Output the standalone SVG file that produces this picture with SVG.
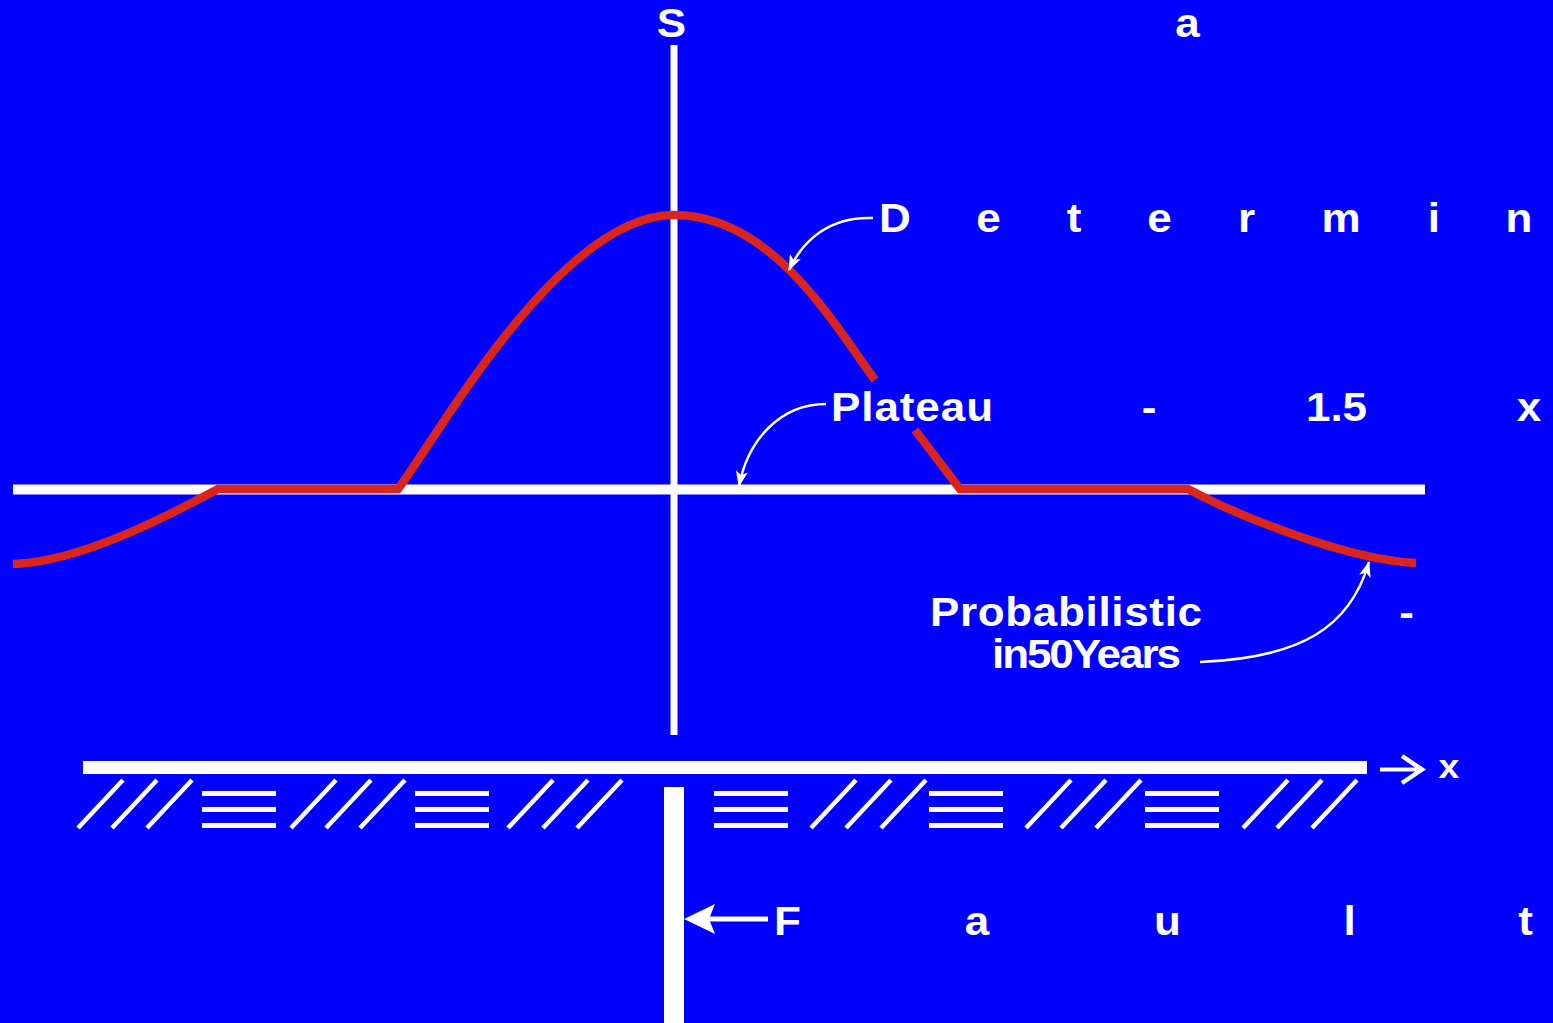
<svg xmlns="http://www.w3.org/2000/svg" width="1553" height="1023" viewBox="0 0 1553 1023">
<defs>
<style>
.t{font-family:"Liberation Sans",Arial,sans-serif;font-weight:bold;font-size:40px;fill:#fff}
.c{text-anchor:middle}
.red{fill:none;stroke:#DA251C;stroke-width:8.5;stroke-linejoin:miter}
.call{fill:none;stroke:#fff;stroke-width:2.5}
.sl{stroke:#fff;stroke-width:4.5;stroke-linecap:butt}
.eq{fill:#fff}
</style>
<marker id="ah" viewBox="0 0 16 12" refX="15" refY="6" markerWidth="16" markerHeight="12" markerUnits="userSpaceOnUse" orient="auto">
<path d="M0,0 L16,6 L0,12 L4,6 z" fill="#fff"/>
</marker>
</defs>
<rect width="1553" height="1023" fill="#0000FF"/>

<g id="axes">
<rect x="13" y="484.5" width="1412" height="10" fill="#fff"/>
<rect x="670.5" y="45" width="7" height="690" fill="#fff"/>
</g>

<g id="curve">
<path class="red" d="M13,564 C80,562 168,516 218,489 L398,489 C438,436 560,215 674,215 C770,215 830,318 875,380"/>
<path class="red" d="M915,430 L960,489 L1188,489 C1238,516 1348,560 1416,563"/>
</g>

<g id="ground">
<rect x="83" y="761" width="1284" height="13" fill="#fff"/>
<rect x="664" y="787" width="20" height="236" fill="#fff"/>
<g id="hatch">
<path class="sl" d="M78,828 L123,780 M112,828 L157,780 M147,828 L192,780"/>
<path class="sl" d="M291,828 L336,780 M326,828 L371,780 M360,828 L405,780"/>
<path class="sl" d="M508,828 L553,780 M543,828 L588,780 M577,828 L622,780"/>
<path class="sl" d="M811,828 L856,780 M846,828 L891,780 M881,828 L926,780"/>
<path class="sl" d="M1026,828 L1071,780 M1061,828 L1106,780 M1096,828 L1141,780"/>
<path class="sl" d="M1243,828 L1288,780 M1277,828 L1322,780 M1312,828 L1357,780"/>
</g>
<g id="layers">
<rect class="eq" x="202" y="791" width="74" height="5"/><rect class="eq" x="202" y="807" width="74" height="5"/><rect class="eq" x="202" y="823" width="74" height="5"/>
<rect class="eq" x="415" y="791" width="74" height="5"/><rect class="eq" x="415" y="807" width="74" height="5"/><rect class="eq" x="415" y="823" width="74" height="5"/>
<rect class="eq" x="714" y="791" width="74" height="5"/><rect class="eq" x="714" y="807" width="74" height="5"/><rect class="eq" x="714" y="823" width="74" height="5"/>
<rect class="eq" x="929" y="791" width="74" height="5"/><rect class="eq" x="929" y="807" width="74" height="5"/><rect class="eq" x="929" y="823" width="74" height="5"/>
<rect class="eq" x="1145" y="791" width="74" height="5"/><rect class="eq" x="1145" y="807" width="74" height="5"/><rect class="eq" x="1145" y="823" width="74" height="5"/>
</g>
</g>

<g id="connectors">
<path class="call" d="M873,218 C830,216 803,240 789,270" marker-end="url(#ah)"/>
<path class="call" d="M826,404 C780,404 748,440 739,486" marker-end="url(#ah)"/>
<path class="call" d="M1200,662 C1300,658 1350,628 1369,562" marker-end="url(#ah)"/>
<line x1="1380" y1="769.5" x2="1420" y2="769.5" stroke="#fff" stroke-width="4"/>
<polyline points="1402,756 1422,769.5 1402,783" fill="none" stroke="#fff" stroke-width="4.5"/>
<line x1="768" y1="919" x2="705" y2="919" stroke="#fff" stroke-width="5"/>
<polygon points="684,919 715,904 709,919 715,934" fill="#fff"/>
</g>

<g id="labels" transform="scale(1.1,1)">
<text class="t c" x="610.45 1079.55" y="37">Sa</text>
<text class="t c" x="813.64 898.64 976.36 1054.09 1133.18 1219.09 1303.64 1380.91" y="232">Determin</text>
<text class="t" x="755.45" y="421" textLength="147.3" lengthAdjust="spacing">Plateau</text>
<text class="t c" x="1044.55" y="421">-</text>
<text class="t c" x="1215" y="421">1.5</text>
<text class="t c" x="1390" y="421">x</text>
<text class="t" x="845.45" y="626" textLength="247.3" lengthAdjust="spacing">Probabilistic</text>
<text class="t c" x="1278.64" y="626">-</text>
<text class="t" x="901.8" y="668" textLength="171.8" lengthAdjust="spacing">in50Years</text>
<text class="t c" x="1317.27" y="778" style="font-size:34px">x</text>
<text class="t c" x="715.91 888.18 1061.36 1226.82 1386.82" y="935">Fault</text>
</g>
</svg>
